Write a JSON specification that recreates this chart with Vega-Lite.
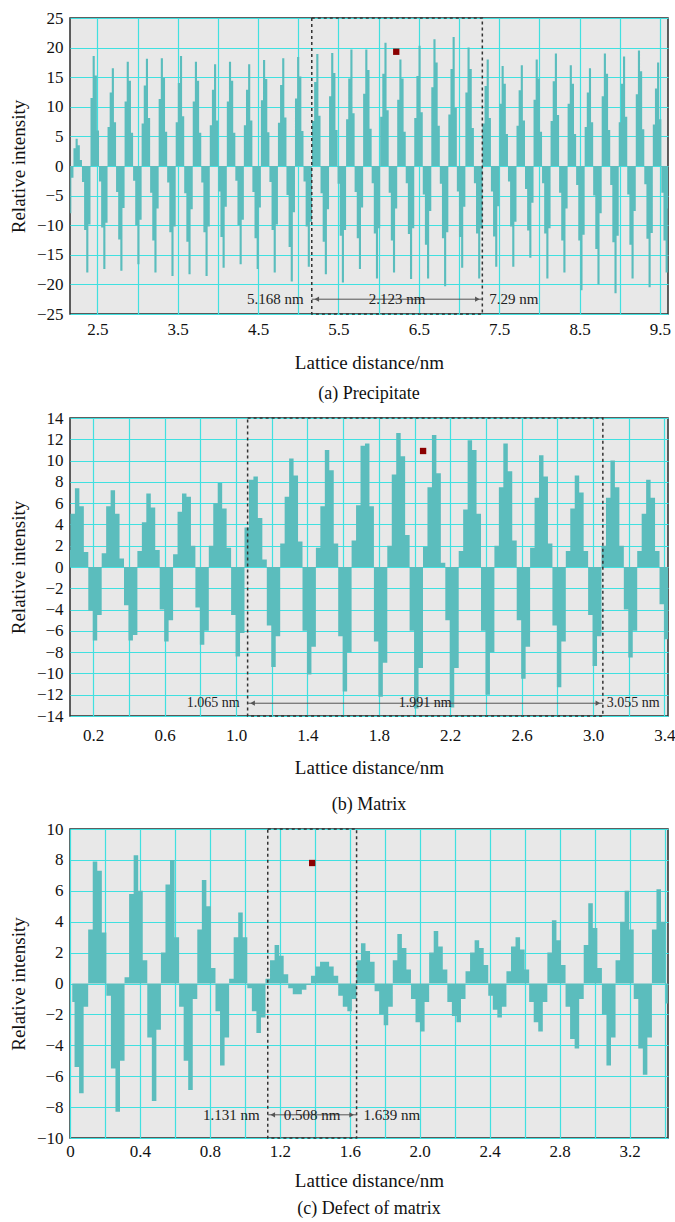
{
"$schema": "https://vega.github.io/schema/vega-lite/v6.json",
"background": "white",
"padding": {"left": 8, "top": 8, "right": 4, "bottom": 4},
"spacing": 4,
"datasets": {
"a": [
{"x":2.163,"y":-8},{"x":2.19,"y":-2},
{"x":2.216,"y":3},{"x":2.243,"y":4.6},{"x":2.269,"y":3.5},{"x":2.296,"y":1},{"x":2.322,"y":-2.7},{"x":2.349,"y":-10.8},{"x":2.375,"y":-18},{"x":2.402,"y":-9.9},
{"x":2.428,"y":11.5},{"x":2.455,"y":18.6},{"x":2.481,"y":15.3},{"x":2.508,"y":6},{"x":2.534,"y":-2.6},{"x":2.561,"y":-10.4},{"x":2.587,"y":-17.4},{"x":2.614,"y":-9.6},
{"x":2.64,"y":6.6},{"x":2.667,"y":12.4},{"x":2.693,"y":16.5},{"x":2.72,"y":7.4},{"x":2.746,"y":-4.4},{"x":2.773,"y":-12.4},{"x":2.799,"y":-17.7},{"x":2.826,"y":-7.1},
{"x":2.852,"y":10.9},{"x":2.879,"y":17.6},{"x":2.905,"y":14.4},{"x":2.932,"y":5.6},{"x":2.958,"y":-2.5},{"x":2.985,"y":-10},{"x":3.011,"y":-16.6},{"x":3.038,"y":-9.1},
{"x":3.064,"y":7.2},{"x":3.091,"y":13.6},{"x":3.117,"y":18.1},{"x":3.144,"y":8.1},{"x":3.17,"y":-4.5},{"x":3.197,"y":-12.6},{"x":3.223,"y":-18},{"x":3.25,"y":-7.2},
{"x":3.276,"y":11.3},{"x":3.303,"y":18.2},{"x":3.329,"y":14.9},{"x":3.356,"y":5.8},{"x":3.382,"y":-2.8},{"x":3.409,"y":-11.2},{"x":3.435,"y":-18.6},{"x":3.462,"y":-10.2},
{"x":3.488,"y":7.4},{"x":3.515,"y":14},{"x":3.541,"y":18.6},{"x":3.568,"y":8.4},{"x":3.594,"y":-4.6},{"x":3.621,"y":-12.8},{"x":3.647,"y":-18.3},{"x":3.674,"y":-7.3},
{"x":3.7,"y":10.9},{"x":3.727,"y":17.6},{"x":3.753,"y":14.4},{"x":3.78,"y":5.6},{"x":3.806,"y":-2.8},{"x":3.833,"y":-11.2},{"x":3.859,"y":-18.6},{"x":3.886,"y":-10.2},
{"x":3.912,"y":6.9},{"x":3.939,"y":12.9},{"x":3.965,"y":17.2},{"x":3.992,"y":7.7},{"x":4.018,"y":-4.3},{"x":4.045,"y":-12},{"x":4.071,"y":-17.2},{"x":4.098,"y":-6.9},
{"x":4.124,"y":10.9},{"x":4.151,"y":17.6},{"x":4.177,"y":14.4},{"x":4.204,"y":5.6},{"x":4.23,"y":-2.5},{"x":4.257,"y":-10},{"x":4.283,"y":-16.6},{"x":4.31,"y":-9.1},
{"x":4.336,"y":6.9},{"x":4.363,"y":12.9},{"x":4.389,"y":17.2},{"x":4.416,"y":7.7},{"x":4.442,"y":-4.4},{"x":4.469,"y":-12.2},{"x":4.495,"y":-17.4},{"x":4.522,"y":-7},
{"x":4.548,"y":11.1},{"x":4.575,"y":17.9},{"x":4.601,"y":14.7},{"x":4.628,"y":5.7},{"x":4.654,"y":-2.7},{"x":4.681,"y":-10.8},{"x":4.707,"y":-18},{"x":4.734,"y":-9.9},
{"x":4.76,"y":7.3},{"x":4.787,"y":13.7},{"x":4.813,"y":18.2},{"x":4.84,"y":8.2},{"x":4.866,"y":-4.9},{"x":4.893,"y":-13.7},{"x":4.919,"y":-19.5},{"x":4.946,"y":-7.8},
{"x":4.972,"y":11.4},{"x":4.999,"y":18.4},{"x":5.025,"y":15.1},{"x":5.052,"y":5.9},{"x":5.078,"y":-2.6},{"x":5.105,"y":-10.2},{"x":5.131,"y":-17},{"x":5.158,"y":-9.4},
{"x":5.184,"y":7.6},{"x":5.211,"y":14.2},{"x":5.237,"y":18.9},{"x":5.264,"y":8.5},{"x":5.29,"y":-4.6},{"x":5.317,"y":-12.8},{"x":5.343,"y":-18.3},{"x":5.37,"y":-7.3},
{"x":5.396,"y":11.8},{"x":5.423,"y":19.1},{"x":5.449,"y":15.7},{"x":5.476,"y":6.1},{"x":5.502,"y":-3},{"x":5.529,"y":-11.8},{"x":5.555,"y":-19.7},{"x":5.582,"y":-10.8},
{"x":5.608,"y":7.9},{"x":5.635,"y":14.8},{"x":5.661,"y":19.7},{"x":5.688,"y":8.9},{"x":5.714,"y":-4.4},{"x":5.741,"y":-12.2},{"x":5.767,"y":-17.4},{"x":5.794,"y":-7},
{"x":5.82,"y":12.2},{"x":5.847,"y":19.7},{"x":5.873,"y":16.2},{"x":5.9,"y":6.3},{"x":5.926,"y":-2.9},{"x":5.953,"y":-11.4},{"x":5.979,"y":-19},{"x":6.006,"y":-10.5},
{"x":6.032,"y":8.3},{"x":6.059,"y":15.6},{"x":6.085,"y":20.8},{"x":6.112,"y":9.4},{"x":6.138,"y":-4.5},{"x":6.165,"y":-12.6},{"x":6.191,"y":-18},{"x":6.218,"y":-7.2},
{"x":6.244,"y":11.2},{"x":6.271,"y":18},{"x":6.297,"y":14.8},{"x":6.324,"y":5.8},{"x":6.35,"y":-2.9},{"x":6.377,"y":-11.5},{"x":6.403,"y":-19.1},{"x":6.43,"y":-10.5},
{"x":6.456,"y":8.1},{"x":6.483,"y":15.2},{"x":6.509,"y":20.3},{"x":6.536,"y":9.1},{"x":6.562,"y":-4.8},{"x":6.589,"y":-13.3},{"x":6.615,"y":-19},{"x":6.642,"y":-7.6},
{"x":6.668,"y":13.3},{"x":6.695,"y":21.4},{"x":6.721,"y":17.5},{"x":6.748,"y":6.8},{"x":6.774,"y":-3},{"x":6.801,"y":-12.2},{"x":6.827,"y":-20.3},{"x":6.854,"y":-11.2},
{"x":6.88,"y":8.7},{"x":6.907,"y":16.4},{"x":6.933,"y":21.8},{"x":6.96,"y":9.8},{"x":6.986,"y":-4.3},{"x":7.013,"y":-12},{"x":7.039,"y":-17.2},{"x":7.066,"y":-6.9},
{"x":7.092,"y":12.4},{"x":7.119,"y":20},{"x":7.145,"y":16.4},{"x":7.172,"y":6.4},{"x":7.198,"y":-2.9},{"x":7.225,"y":-11.4},{"x":7.251,"y":-19},{"x":7.278,"y":-10.5},
{"x":7.304,"y":7.2},{"x":7.331,"y":13.5},{"x":7.357,"y":18},{"x":7.384,"y":8.1},{"x":7.41,"y":-4.3},{"x":7.437,"y":-11.9},{"x":7.463,"y":-17},{"x":7.49,"y":-6.8},
{"x":7.516,"y":10.5},{"x":7.543,"y":16.9},{"x":7.569,"y":13.9},{"x":7.596,"y":5.4},{"x":7.622,"y":-2.6},{"x":7.649,"y":-10.2},{"x":7.675,"y":-17},{"x":7.702,"y":-9.4},
{"x":7.728,"y":6.8},{"x":7.755,"y":12.8},{"x":7.781,"y":17},{"x":7.808,"y":7.7},{"x":7.834,"y":-3.9},{"x":7.861,"y":-10.9},{"x":7.887,"y":-15.5},{"x":7.914,"y":-6.2},
{"x":7.94,"y":11.2},{"x":7.967,"y":18},{"x":7.993,"y":14.8},{"x":8.02,"y":5.8},{"x":8.046,"y":-2.9},{"x":8.073,"y":-11.4},{"x":8.099,"y":-19},{"x":8.126,"y":-10.5},
{"x":8.152,"y":7.6},{"x":8.179,"y":14.3},{"x":8.205,"y":19},{"x":8.232,"y":8.6},{"x":8.258,"y":-4.5},{"x":8.285,"y":-12.6},{"x":8.311,"y":-18},{"x":8.338,"y":-7.2},
{"x":8.364,"y":10.5},{"x":8.391,"y":17},{"x":8.417,"y":13.9},{"x":8.444,"y":5.4},{"x":8.47,"y":-3.2},{"x":8.497,"y":-12.6},{"x":8.523,"y":-21},{"x":8.55,"y":-11.6},
{"x":8.576,"y":6.6},{"x":8.603,"y":12.4},{"x":8.629,"y":16.5},{"x":8.656,"y":7.4},{"x":8.682,"y":-5},{"x":8.709,"y":-14},{"x":8.735,"y":-20},{"x":8.762,"y":-8},
{"x":8.788,"y":11.8},{"x":8.815,"y":19},{"x":8.841,"y":15.6},{"x":8.868,"y":6.1},{"x":8.894,"y":-3.2},{"x":8.921,"y":-12.9},{"x":8.947,"y":-21.5},{"x":8.974,"y":-11.8},
{"x":9.0,"y":7.4},{"x":9.027,"y":13.9},{"x":9.053,"y":18.5},{"x":9.08,"y":8.3},{"x":9.106,"y":-4.8},{"x":9.133,"y":-13.3},{"x":9.159,"y":-19},{"x":9.186,"y":-7.6},
{"x":9.212,"y":12.1},{"x":9.239,"y":19.5},{"x":9.265,"y":16},{"x":9.292,"y":6.2},{"x":9.318,"y":-3.1},{"x":9.345,"y":-12.3},{"x":9.371,"y":-20.5},{"x":9.398,"y":-11.3},
{"x":9.424,"y":7},{"x":9.451,"y":13.1},{"x":9.477,"y":17.5},{"x":9.504,"y":7.9},{"x":9.53,"y":-4.5},{"x":9.557,"y":-12.6},{"x":9.583,"y":-18},{"x":9.61,"y":-7.2}
],
"b": [
{"x":0.06,"y":1.6},{"x":0.085,"y":5},{"x":0.11,"y":7.4},{"x":0.135,"y":5.7},{"x":0.16,"y":1.4},{"x":0.185,"y":-4.1},{"x":0.21,"y":-6.9},{"x":0.235,"y":-4.5},
{"x":0.26,"y":1.3},{"x":0.285,"y":5.7},{"x":0.31,"y":7.2},{"x":0.335,"y":5},{"x":0.36,"y":0.8},{"x":0.385,"y":-3.6},{"x":0.41,"y":-6.9},{"x":0.435,"y":-6.4},
{"x":0.46,"y":1.5},{"x":0.485,"y":4.2},{"x":0.51,"y":6.9},{"x":0.535,"y":5.6},{"x":0.56,"y":1.6},{"x":0.585,"y":-4},{"x":0.61,"y":-7},{"x":0.635,"y":-5},
{"x":0.66,"y":1.2},{"x":0.685,"y":5.2},{"x":0.71,"y":6.9},{"x":0.735,"y":6.6},{"x":0.76,"y":2},{"x":0.785,"y":-3.8},{"x":0.81,"y":-7.3},{"x":0.835,"y":-6},
{"x":0.86,"y":2},{"x":0.885,"y":6},{"x":0.91,"y":7.9},{"x":0.935,"y":5.5},{"x":0.96,"y":1.8},{"x":0.985,"y":-4.5},{"x":1.01,"y":-8.4},{"x":1.035,"y":-6.2},
{"x":1.06,"y":3.7},{"x":1.085,"y":8.2},{"x":1.11,"y":8.5},{"x":1.135,"y":4.6},{"x":1.16,"y":0.7},{"x":1.185,"y":-5.5},{"x":1.21,"y":-9.4},{"x":1.235,"y":-6.5},
{"x":1.26,"y":2.2},{"x":1.285,"y":6.6},{"x":1.31,"y":10.2},{"x":1.335,"y":8.6},{"x":1.36,"y":2.4},{"x":1.385,"y":-6},{"x":1.41,"y":-10.1},{"x":1.435,"y":-7.5},
{"x":1.46,"y":1.8},{"x":1.485,"y":5.7},{"x":1.51,"y":11},{"x":1.535,"y":9.1},{"x":1.56,"y":2.2},{"x":1.585,"y":-6.5},{"x":1.61,"y":-11.7},{"x":1.635,"y":-8},
{"x":1.66,"y":2.5},{"x":1.685,"y":5.8},{"x":1.71,"y":11.4},{"x":1.735,"y":11.6},{"x":1.76,"y":5.7},{"x":1.785,"y":-7},{"x":1.81,"y":-12.2},{"x":1.835,"y":-9},
{"x":1.86,"y":2},{"x":1.885,"y":8.7},{"x":1.91,"y":12.6},{"x":1.935,"y":10.4},{"x":1.96,"y":3},{"x":1.985,"y":-6},{"x":2.01,"y":-13.3},{"x":2.035,"y":-9.5},
{"x":2.06,"y":1.9},{"x":2.085,"y":7.5},{"x":2.11,"y":12.4},{"x":2.135,"y":8.8},{"x":2.16,"y":0.4},{"x":2.185,"y":-5},{"x":2.21,"y":-13.2},{"x":2.235,"y":-9.5},
{"x":2.26,"y":1.5},{"x":2.285,"y":5.4},{"x":2.31,"y":11.9},{"x":2.335,"y":11},{"x":2.36,"y":5},{"x":2.385,"y":-6},{"x":2.41,"y":-12},{"x":2.435,"y":-8},
{"x":2.46,"y":2},{"x":2.485,"y":7.5},{"x":2.51,"y":11.6},{"x":2.535,"y":9},{"x":2.56,"y":2.5},{"x":2.585,"y":-5},{"x":2.61,"y":-10.5},{"x":2.635,"y":-7.5},
{"x":2.66,"y":1.8},{"x":2.685,"y":6.5},{"x":2.71,"y":10.5},{"x":2.735,"y":8.5},{"x":2.76,"y":2.2},{"x":2.785,"y":-5.5},{"x":2.81,"y":-11.3},{"x":2.835,"y":-7},
{"x":2.86,"y":1.5},{"x":2.885,"y":5.5},{"x":2.91,"y":8.6},{"x":2.935,"y":7},{"x":2.96,"y":1.5},{"x":2.985,"y":-4.5},{"x":3.01,"y":-9.3},{"x":3.035,"y":-6.5},
{"x":3.06,"y":2},{"x":3.085,"y":6.5},{"x":3.11,"y":10},{"x":3.135,"y":7.5},{"x":3.16,"y":2},{"x":3.185,"y":-4},{"x":3.21,"y":-8.5},{"x":3.235,"y":-6},
{"x":3.26,"y":1.5},{"x":3.285,"y":5},{"x":3.31,"y":8.2},{"x":3.335,"y":6.5},{"x":3.36,"y":1.5},{"x":3.385,"y":-3.5},{"x":3.41,"y":-6.8},{"x":3.435,"y":-4.5}
],
"c": [
{"x":0.013,"y":-1.2},{"x":0.039,"y":-5.4},{"x":0.065,"y":-7.1},{"x":0.091,"y":-1.5},{"x":0.117,"y":3.5},{"x":0.143,"y":7.9},{"x":0.169,"y":7.3},{"x":0.195,"y":3.3},
{"x":0.221,"y":-0.8},{"x":0.247,"y":-5.5},{"x":0.273,"y":-8.3},{"x":0.299,"y":-5},{"x":0.325,"y":0.4},{"x":0.351,"y":5.8},{"x":0.377,"y":8.3},{"x":0.403,"y":6},
{"x":0.429,"y":1.5},{"x":0.455,"y":-3.5},{"x":0.481,"y":-7.6},{"x":0.507,"y":-3},{"x":0.533,"y":2},{"x":0.559,"y":6.4},{"x":0.585,"y":8},{"x":0.611,"y":3},
{"x":0.637,"y":-1.5},{"x":0.663,"y":-5},{"x":0.689,"y":-6.9},{"x":0.715,"y":-1},{"x":0.741,"y":3.5},{"x":0.767,"y":6.7},{"x":0.793,"y":5},{"x":0.819,"y":1},
{"x":0.845,"y":-1.8},{"x":0.871,"y":-5.3},{"x":0.897,"y":-3.5},{"x":0.923,"y":0.3},{"x":0.949,"y":3},{"x":0.975,"y":4.6},{"x":1.001,"y":3},{"x":1.027,"y":-0.3},
{"x":1.053,"y":-1.8},{"x":1.079,"y":-3.2},{"x":1.105,"y":-2.2},{"x":1.131,"y":0.3},{"x":1.157,"y":1.5},{"x":1.183,"y":2.5},{"x":1.209,"y":1.8},{"x":1.235,"y":0.6},
{"x":1.261,"y":-0.3},{"x":1.287,"y":-0.7},{"x":1.313,"y":-0.7},{"x":1.339,"y":-0.4},{"x":1.365,"y":-0.1},{"x":1.391,"y":0.5},{"x":1.417,"y":1.1},{"x":1.443,"y":1.4},
{"x":1.469,"y":1.4},{"x":1.495,"y":1.1},{"x":1.521,"y":0.5},{"x":1.547,"y":-0.8},{"x":1.573,"y":-1.5},{"x":1.599,"y":-1.8},{"x":1.625,"y":-1},{"x":1.651,"y":1.5},
{"x":1.677,"y":2.6},{"x":1.703,"y":2.1},{"x":1.729,"y":1.4},{"x":1.755,"y":-0.5},{"x":1.781,"y":-2},{"x":1.807,"y":-2.7},{"x":1.833,"y":-1.5},{"x":1.859,"y":1.5},
{"x":1.885,"y":3.2},{"x":1.911,"y":2.3},{"x":1.937,"y":0.9},{"x":1.963,"y":-1},{"x":1.989,"y":-2.5},{"x":2.015,"y":-3.1},{"x":2.041,"y":-1.2},{"x":2.067,"y":2},
{"x":2.093,"y":3.4},{"x":2.119,"y":2.4},{"x":2.145,"y":0.9},{"x":2.171,"y":-1.2},{"x":2.197,"y":-2.1},{"x":2.223,"y":-2.5},{"x":2.249,"y":-1},{"x":2.275,"y":0.8},
{"x":2.301,"y":2},{"x":2.327,"y":2.8},{"x":2.353,"y":2.3},{"x":2.379,"y":1.2},{"x":2.405,"y":-0.8},{"x":2.431,"y":-1.7},{"x":2.457,"y":-2.2},{"x":2.483,"y":-1.5},
{"x":2.509,"y":0.8},{"x":2.535,"y":2.4},{"x":2.561,"y":3},{"x":2.587,"y":2.2},{"x":2.613,"y":0.9},{"x":2.639,"y":-1.2},{"x":2.665,"y":-2.5},{"x":2.691,"y":-3.1},
{"x":2.717,"y":-1.2},{"x":2.743,"y":2},{"x":2.769,"y":4.1},{"x":2.795,"y":2.8},{"x":2.821,"y":1.2},{"x":2.847,"y":-1.5},{"x":2.873,"y":-3.6},{"x":2.899,"y":-4.2},
{"x":2.925,"y":-1},{"x":2.951,"y":2.5},{"x":2.977,"y":5.2},{"x":3.003,"y":3.6},{"x":3.029,"y":1},{"x":3.055,"y":-2},{"x":3.081,"y":-5.3},{"x":3.107,"y":-3.5},
{"x":3.133,"y":1.5},{"x":3.159,"y":4},{"x":3.185,"y":6},{"x":3.211,"y":3.5},{"x":3.237,"y":-1},{"x":3.263,"y":-4.2},{"x":3.289,"y":-5.9},{"x":3.315,"y":-3.5},
{"x":3.341,"y":3.5},{"x":3.367,"y":6.1},{"x":3.393,"y":4},{"x":3.419,"y":-1.3}
]
},
"vconcat": [
{
"width": 598, "height": 296,
"title": {"text": "(a) Precipitate", "offset": 13},
"data": {"values": [{"x1": 5.168, "x2": 7.29, "mid": 6.229, "ay": -22.5, "l1": "5.168 nm", "l2": "2.123 nm", "l3": "7.29 nm", "sx": 6.219, "sy": 19.3}]},
"layer": [
{"data": {"name": "a"}, "mark": {"type": "area", "interpolate": "step", "color": "#5bbdbd", "clip": true},
 "encoding": {
  "x": {"field": "x", "type": "quantitative", "title": "Lattice distance/nm", "scale": {"domain": [2.16, 9.6], "nice": false, "zero": false},
        "axis": {"values": [2.5,3,3.5,4,4.5,5,5.5,6,6.5,7,7.5,8,8.5,9,9.5], "tickCount": 200, "labelExpr": "round(datum.value*2)%2==1 ? format(datum.value,'.1f') : ''", "labelOverlap": false, "labelPadding": 7, "titlePadding": 16}},
  "y": {"field": "y", "type": "quantitative", "title": "Relative intensity", "stack": null, "scale": {"domain": [-25, 25], "nice": false},
        "axis": {"values": [-25,-20,-15,-10,-5,0,5,10,15,20,25], "tickCount": 200, "format": "d", "labelOverlap": false}},
  "y2": {"datum": 0}
 }},
{"mark": {"type": "rect", "filled": false, "stroke": "#333333", "strokeWidth": 1.5, "strokeDash": [3, 3]},
 "encoding": {"x": {"field": "x1", "type": "quantitative"}, "x2": {"field": "x2"}}},
{"mark": {"type": "rule", "color": "#555555", "strokeWidth": 1},
 "encoding": {"x": {"field": "x1", "type": "quantitative"}, "x2": {"field": "x2"}, "y": {"field": "ay", "type": "quantitative"}}},
{"mark": {"type": "point", "shape": "triangle-left", "filled": true, "color": "#555555", "opacity": 1, "size": 28, "xOffset": 5},
 "encoding": {"x": {"field": "x1", "type": "quantitative"}, "y": {"field": "ay", "type": "quantitative"}}},
{"mark": {"type": "point", "shape": "triangle-right", "filled": true, "color": "#555555", "opacity": 1, "size": 28, "xOffset": -5},
 "encoding": {"x": {"field": "x2", "type": "quantitative"}, "y": {"field": "ay", "type": "quantitative"}}},
{"mark": {"type": "text", "align": "right", "baseline": "middle", "dx": -8, "font": "Liberation Serif, Times New Roman, serif", "fontSize": 15, "color": "#222222"},
 "encoding": {"x": {"field": "x1", "type": "quantitative"}, "y": {"field": "ay", "type": "quantitative"}, "text": {"field": "l1"}}},
{"mark": {"type": "text", "align": "center", "baseline": "middle", "font": "Liberation Serif, Times New Roman, serif", "fontSize": 15, "color": "#222222"},
 "encoding": {"x": {"field": "mid", "type": "quantitative"}, "y": {"field": "ay", "type": "quantitative"}, "text": {"field": "l2"}}},
{"mark": {"type": "text", "align": "left", "baseline": "middle", "dx": 7, "font": "Liberation Serif, Times New Roman, serif", "fontSize": 15, "color": "#222222"},
 "encoding": {"x": {"field": "x2", "type": "quantitative"}, "y": {"field": "ay", "type": "quantitative"}, "text": {"field": "l3"}}},
{"mark": {"type": "square", "color": "#8b0000", "opacity": 1, "size": 40},
 "encoding": {"x": {"field": "sx", "type": "quantitative"}, "y": {"field": "sy", "type": "quantitative"}}}
]
},
{
"width": 598, "height": 298,
"title": {"text": "(b) Matrix", "offset": 19},
"data": {"values": [{"x1": 1.065, "x2": 3.055, "mid": 2.06, "ay": -12.8, "l1": "1.065 nm", "l2": "1.991 nm", "l3": "3.055 nm", "sx": 2.048, "sy": 10.9}]},
"layer": [
{"data": {"name": "b"}, "mark": {"type": "area", "interpolate": "step", "color": "#5bbdbd", "clip": true},
 "encoding": {
  "x": {"field": "x", "type": "quantitative", "title": "Lattice distance/nm", "scale": {"domain": [0.07, 3.42], "nice": false, "zero": false},
        "axis": {"values": [0.2,0.4,0.6,0.8,1,1.2,1.4,1.6,1.8,2,2.2,2.4,2.6,2.8,3,3.2,3.4], "tickCount": 200, "labelExpr": "round(datum.value*5)%2==1 ? format(datum.value,'.1f') : ''", "labelOverlap": false, "labelPadding": 11, "titlePadding": 15}},
  "y": {"field": "y", "type": "quantitative", "title": "Relative intensity", "stack": null, "scale": {"domain": [-14, 14], "nice": false},
        "axis": {"values": [-14,-12,-10,-8,-6,-4,-2,0,2,4,6,8,10,12,14], "tickCount": 200, "format": "d", "labelOverlap": false}},
  "y2": {"datum": 0}
 }},
{"mark": {"type": "rect", "filled": false, "stroke": "#333333", "strokeWidth": 1.5, "strokeDash": [3, 3]},
 "encoding": {"x": {"field": "x1", "type": "quantitative"}, "x2": {"field": "x2"}}},
{"mark": {"type": "rule", "color": "#555555", "strokeWidth": 1},
 "encoding": {"x": {"field": "x1", "type": "quantitative"}, "x2": {"field": "x2"}, "y": {"field": "ay", "type": "quantitative"}}},
{"mark": {"type": "point", "shape": "triangle-left", "filled": true, "color": "#555555", "opacity": 1, "size": 28, "xOffset": 5},
 "encoding": {"x": {"field": "x1", "type": "quantitative"}, "y": {"field": "ay", "type": "quantitative"}}},
{"mark": {"type": "point", "shape": "triangle-right", "filled": true, "color": "#555555", "opacity": 1, "size": 28, "xOffset": -5},
 "encoding": {"x": {"field": "x2", "type": "quantitative"}, "y": {"field": "ay", "type": "quantitative"}}},
{"mark": {"type": "text", "align": "right", "baseline": "middle", "dx": -8, "font": "Liberation Serif, Times New Roman, serif", "fontSize": 14, "color": "#222222"},
 "encoding": {"x": {"field": "x1", "type": "quantitative"}, "y": {"field": "ay", "type": "quantitative"}, "text": {"field": "l1"}}},
{"mark": {"type": "text", "align": "center", "baseline": "middle", "font": "Liberation Serif, Times New Roman, serif", "fontSize": 14, "color": "#222222"},
 "encoding": {"x": {"field": "mid", "type": "quantitative"}, "y": {"field": "ay", "type": "quantitative"}, "text": {"field": "l2"}}},
{"mark": {"type": "text", "align": "left", "baseline": "middle", "dx": 4, "font": "Liberation Serif, Times New Roman, serif", "fontSize": 14, "color": "#222222"},
 "encoding": {"x": {"field": "x2", "type": "quantitative"}, "y": {"field": "ay", "type": "quantitative"}, "text": {"field": "l3"}}},
{"mark": {"type": "square", "color": "#8b0000", "opacity": 1, "size": 40},
 "encoding": {"x": {"field": "sx", "type": "quantitative"}, "y": {"field": "sy", "type": "quantitative"}}}
]
},
{
"width": 598, "height": 309,
"title": {"text": "(c) Defect of matrix", "offset": 10},
"data": {"values": [{"x1": 1.131, "x2": 1.639, "mid": 1.385, "ay": -8.5, "l1": "1.131 nm", "l2": "0.508 nm", "l3": "1.639 nm", "sx": 1.385, "sy": 7.8}]},
"layer": [
{"data": {"name": "c"}, "mark": {"type": "area", "interpolate": "step", "color": "#5bbdbd", "clip": true},
 "encoding": {
  "x": {"field": "x", "type": "quantitative", "title": "Lattice distance/nm", "scale": {"domain": [0, 3.42], "nice": false, "zero": false},
        "axis": {"values": [0,0.2,0.4,0.6,0.8,1,1.2,1.4,1.6,1.8,2,2.2,2.4,2.6,2.8,3,3.2,3.4], "tickCount": 200, "labelExpr": "round(datum.value*5)%2==0 ? (datum.value==0 ? '0' : format(datum.value,'.1f')) : ''", "labelOverlap": false, "labelPadding": 5, "titlePadding": 12}},
  "y": {"field": "y", "type": "quantitative", "title": "Relative intensity", "stack": null, "scale": {"domain": [-10, 10], "nice": false},
        "axis": {"values": [-10,-8,-6,-4,-2,0,2,4,6,8,10], "tickCount": 200, "format": "d", "labelOverlap": false}},
  "y2": {"datum": 0}
 }},
{"mark": {"type": "rect", "filled": false, "stroke": "#333333", "strokeWidth": 1.5, "strokeDash": [3, 3]},
 "encoding": {"x": {"field": "x1", "type": "quantitative"}, "x2": {"field": "x2"}}},
{"mark": {"type": "rule", "color": "#555555", "strokeWidth": 1},
 "encoding": {"x": {"field": "x1", "type": "quantitative"}, "x2": {"field": "x2"}, "y": {"field": "ay", "type": "quantitative"}}},
{"mark": {"type": "point", "shape": "triangle-left", "filled": true, "color": "#555555", "opacity": 1, "size": 28, "xOffset": 5},
 "encoding": {"x": {"field": "x1", "type": "quantitative"}, "y": {"field": "ay", "type": "quantitative"}}},
{"mark": {"type": "point", "shape": "triangle-right", "filled": true, "color": "#555555", "opacity": 1, "size": 28, "xOffset": -5},
 "encoding": {"x": {"field": "x2", "type": "quantitative"}, "y": {"field": "ay", "type": "quantitative"}}},
{"mark": {"type": "text", "align": "right", "baseline": "middle", "dx": -8, "font": "Liberation Serif, Times New Roman, serif", "fontSize": 15, "color": "#222222"},
 "encoding": {"x": {"field": "x1", "type": "quantitative"}, "y": {"field": "ay", "type": "quantitative"}, "text": {"field": "l1"}}},
{"mark": {"type": "text", "align": "center", "baseline": "middle", "font": "Liberation Serif, Times New Roman, serif", "fontSize": 15, "color": "#222222"},
 "encoding": {"x": {"field": "mid", "type": "quantitative"}, "y": {"field": "ay", "type": "quantitative"}, "text": {"field": "l2"}}},
{"mark": {"type": "text", "align": "left", "baseline": "middle", "dx": 7, "font": "Liberation Serif, Times New Roman, serif", "fontSize": 15, "color": "#222222"},
 "encoding": {"x": {"field": "x2", "type": "quantitative"}, "y": {"field": "ay", "type": "quantitative"}, "text": {"field": "l3"}}},
{"mark": {"type": "square", "color": "#8b0000", "opacity": 1, "size": 40},
 "encoding": {"x": {"field": "sx", "type": "quantitative"}, "y": {"field": "sy", "type": "quantitative"}}}
]
}
],
"config": {
 "font": "Liberation Serif, Times New Roman, serif",
 "view": {"stroke": "#2b2b2b", "strokeWidth": 1.5, "fill": "#e8e8e8"},
 "axis": {"labelFont": "Liberation Serif, Times New Roman, serif", "labelFontSize": 17, "labelColor": "#111111", "titleFont": "Liberation Serif, Times New Roman, serif", "titleFontSize": 19, "titleFontWeight": "normal", "titleColor": "#111111",
          "grid": true, "gridColor": "#40e0e0", "gridOpacity": 1, "gridWidth": 1.2, "domain": false, "ticks": false, "zindex": 1, "labelOverlap": false, "labelFlush": false, "labelSeparation": 0},
 "axisX": {"labelAngle": 0},
 "axisY": {"labelPadding": 7, "titlePadding": 8},
 "title": {"font": "Liberation Serif, Times New Roman, serif", "fontSize": 18, "fontWeight": "normal", "color": "#111111", "orient": "bottom", "anchor": "middle"}
}
}
